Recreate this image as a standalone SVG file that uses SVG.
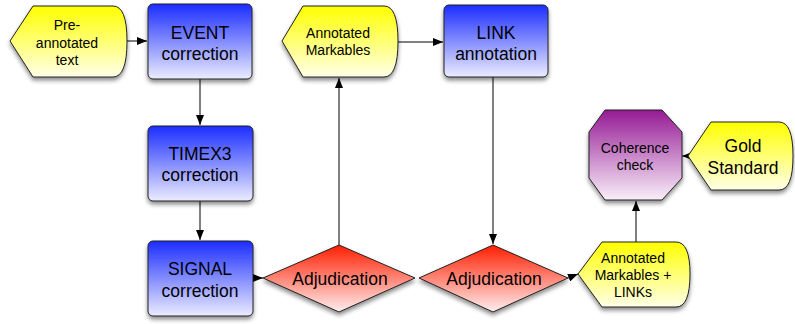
<svg xmlns="http://www.w3.org/2000/svg" width="795" height="324" viewBox="0 0 795 324">
<style>
text{font-family:"Liberation Sans",Arial,sans-serif;fill:#000;text-anchor:middle}
.big{font-size:17.5px}
.sm{font-size:14px}
.md{font-size:14px}
.shape{stroke:#222;stroke-width:1}
.conn{stroke:#000;stroke-width:1;fill:none}
</style>
<defs>
<linearGradient id="gb" x1="0" y1="0" x2="0" y2="1"><stop offset="0" stop-color="#1b2dff"/><stop offset="1" stop-color="#ececff"/></linearGradient>
<linearGradient id="gy" x1="0" y1="0" x2="0" y2="1"><stop offset="0" stop-color="#ffff00"/><stop offset="1" stop-color="#ffffe8"/></linearGradient>
<linearGradient id="gr" x1="0" y1="0" x2="0" y2="1"><stop offset="0" stop-color="#ff1e00"/><stop offset="1" stop-color="#ffeeee"/></linearGradient>
<linearGradient id="gp" x1="0" y1="0" x2="0" y2="1"><stop offset="0" stop-color="#951a95"/><stop offset="1" stop-color="#f9eff9"/></linearGradient>
<filter id="sh" x="-20%" y="-20%" width="140%" height="150%"><feDropShadow dx="0" dy="3" stdDeviation="2.2" flood-color="#000" flood-opacity="0.45"/></filter>
<marker id="ah" markerWidth="10" markerHeight="8" refX="10" refY="4" orient="auto" markerUnits="userSpaceOnUse"><path d="M0,0 L10,4 L0,8 Z" fill="#000"/></marker>
</defs>

<g id="connectors">
<line class="conn" x1="127" y1="41" x2="147" y2="41" marker-end="url(#ah)"/>
<line class="conn" x1="200" y1="79" x2="200" y2="125" marker-end="url(#ah)"/>
<line class="conn" x1="200" y1="201" x2="200" y2="240" marker-end="url(#ah)"/>
<line class="conn" x1="253" y1="278" x2="263" y2="278" marker-end="url(#ah)"/>
<line class="conn" x1="339" y1="245" x2="339" y2="78" marker-end="url(#ah)"/>
<line class="conn" x1="398" y1="42" x2="443" y2="42" marker-end="url(#ah)"/>
<line class="conn" x1="493" y1="77" x2="493" y2="244" marker-end="url(#ah)"/>
<line class="conn" x1="568" y1="278" x2="578" y2="274" marker-end="url(#ah)"/>
<line class="conn" x1="636" y1="242" x2="636" y2="201" marker-end="url(#ah)"/>
<line class="conn" x1="688" y1="156" x2="682" y2="156" marker-end="url(#ah)"/>
</g>

<g id="pre-annotated">
<path class="shape" filter="url(#sh)" fill="url(#gy)" d="M33,6 L113,6 Q127,6 127,41 Q127,77 113,77 L33,77 L10,41 Z"/>
<text class="md" x="67" y="30">Pre-</text>
<text class="md" x="67" y="48">annotated</text>
<text class="md" x="67" y="65">text</text>
</g>

<g id="event">
<rect class="shape" filter="url(#sh)" fill="url(#gb)" x="148" y="4" width="104" height="75" rx="5"/>
<text class="big" x="200" y="38.5">EVENT</text>
<text class="big" x="200" y="59.5">correction</text>
</g>

<g id="timex3">
<rect class="shape" filter="url(#sh)" fill="url(#gb)" x="148" y="126" width="105" height="75" rx="5"/>
<text class="big" x="200" y="159.5">TIMEX3</text>
<text class="big" x="200" y="180.5">correction</text>
</g>

<g id="signal">
<rect class="shape" filter="url(#sh)" fill="url(#gb)" x="148" y="241" width="105" height="75" rx="5"/>
<text class="big" x="200" y="274.5">SIGNAL</text>
<text class="big" x="200" y="296.5">correction</text>
</g>

<g id="adjudication1">
<path class="shape" filter="url(#sh)" fill="url(#gr)" d="M339,245 L415,278 L339,312 L263,278 Z"/>
<text class="big" x="340" y="285">Adjudication</text>
</g>

<g id="annotated-markables">
<path class="shape" filter="url(#sh)" fill="url(#gy)" d="M303,6 L384,6 Q398,6 398,41 Q398,77 384,77 L303,77 L282,41 Z"/>
<text class="sm" x="338" y="38">Annotated</text>
<text class="sm" x="338" y="55">Markables</text>
</g>

<g id="link">
<rect class="shape" filter="url(#sh)" fill="url(#gb)" x="444" y="5" width="104" height="72" rx="5"/>
<text class="big" x="496" y="38.5">LINK</text>
<text class="big" x="496" y="59.5">annotation</text>
</g>

<g id="adjudication2">
<path class="shape" filter="url(#sh)" fill="url(#gr)" d="M493,245 L568,278 L493,312 L419,278 Z"/>
<text class="big" x="494" y="285">Adjudication</text>
</g>

<g id="annotated-markables-links">
<path class="shape" filter="url(#sh)" fill="url(#gy)" d="M602,242 L676,242 Q690,242 690,274 Q690,307 676,307 L602,307 L578,274 Z"/>
<text class="sm" x="633" y="263">Annotated</text>
<text class="sm" x="633" y="280">Markables +</text>
<text class="sm" x="633" y="297">LINKs</text>
</g>

<g id="coherence">
<path class="shape" filter="url(#sh)" fill="url(#gp)" d="M605,110 L662,110 L682,132 L682,178 L662,200 L605,200 L589,178 L589,132 Z"/>
<text class="sm" x="635" y="153">Coherence</text>
<text class="sm" x="635" y="170">check</text>
</g>

<g id="gold">
<path class="shape" filter="url(#sh)" fill="url(#gy)" d="M711,122 L779,122 Q793,122 793,156 Q793,190 779,190 L711,190 L688,156 Z"/>
<text class="big" x="743" y="152">Gold</text>
<text class="big" x="743" y="174">Standard</text>
</g>
</svg>
